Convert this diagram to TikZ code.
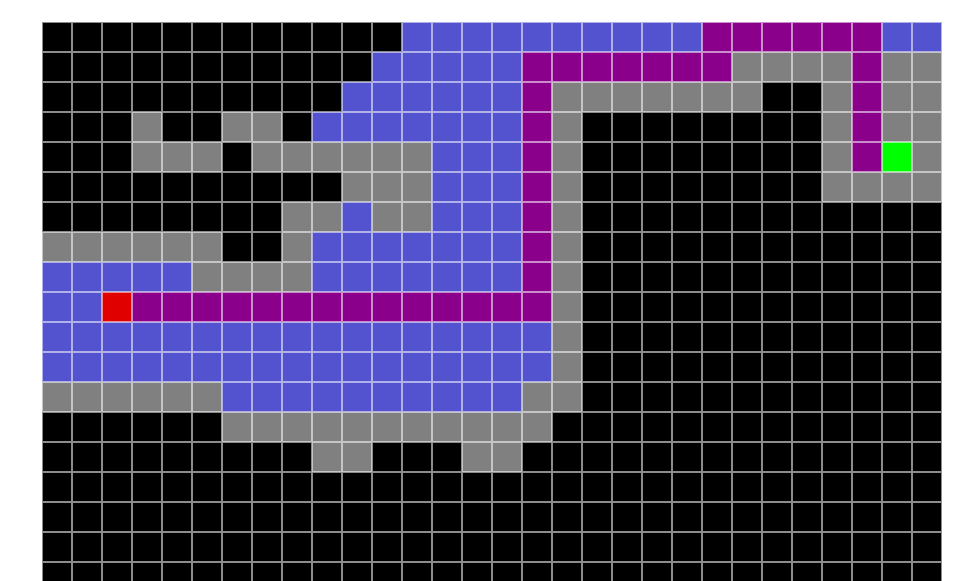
\documentclass[tikz,border=0pt]{standalone}
\usepackage{tikz}
\definecolor{WallBlack}{HTML}{000000}
\definecolor{WallGray}{HTML}{808080}
\definecolor{SeenBlue}{HTML}{5353CF}
\definecolor{PathPurple}{HTML}{8B008B}
\definecolor{StartRed}{HTML}{E00000}
\definecolor{GoalGreen}{HTML}{00FF00}
\tikzset{
  gridline/.style={draw=white, draw opacity=0.55, line width=0.6pt},
}

\begin{document}
\begin{tikzpicture}[x=0.5cm,y=0.5cm]
  \useasboundingbox (-1.4,-18.6) rectangle (30.6,0.7333);
  \begin{scope}
    \clip (0,-18.6) rectangle (30,0);
    \fill[WallBlack] (0,-19) rectangle (30,0);
    % explored cells, row/first/last column
    \foreach \r/\a/\b in {0/12/21, 0/28/29, 1/11/15, 2/10/15, 3/9/15,
        4/13/15, 5/13/15, 6/10/10, 6/13/15, 7/9/15, 8/0/4, 8/9/15,
        9/0/1, 10/0/16, 11/0/16, 12/6/15}
      \fill[SeenBlue] (\a,-\r) rectangle ({\b+1},{-\r-1});
    % frontier
    \foreach \r/\a/\b in {1/23/26, 1/28/29, 2/17/23, 2/26/26, 2/28/29,
        3/3/3, 3/6/7, 3/17/17, 3/26/26, 3/28/29,
        4/3/5, 4/7/12, 4/17/17, 4/26/26, 4/29/29,
        5/10/12, 5/17/17, 5/26/29, 6/8/9, 6/11/12, 6/17/17,
        7/0/5, 7/8/8, 7/17/17, 8/5/8, 8/17/17, 9/17/17, 10/17/17,
        11/17/17, 12/0/5, 12/16/17, 13/6/16, 14/9/10, 14/14/15}
      \fill[WallGray] (\a,-\r) rectangle ({\b+1},{-\r-1});
    % path
    \foreach \r/\a/\b in {0/22/27, 1/16/22, 1/27/27, 2/16/16, 2/27/27,
        3/16/16, 3/27/27, 4/16/16, 4/27/27, 5/16/16, 6/16/16,
        7/16/16, 8/16/16, 9/3/16}
      \fill[PathPurple] (\a,-\r) rectangle ({\b+1},{-\r-1});
    \fill[StartRed] (2,-9) rectangle (3,-10);
    \fill[GoalGreen] (28,-4) rectangle (29,-5);
    \draw[gridline, step=1] (0,-19) grid (30,0);
  \end{scope}
\end{tikzpicture}
\end{document}
